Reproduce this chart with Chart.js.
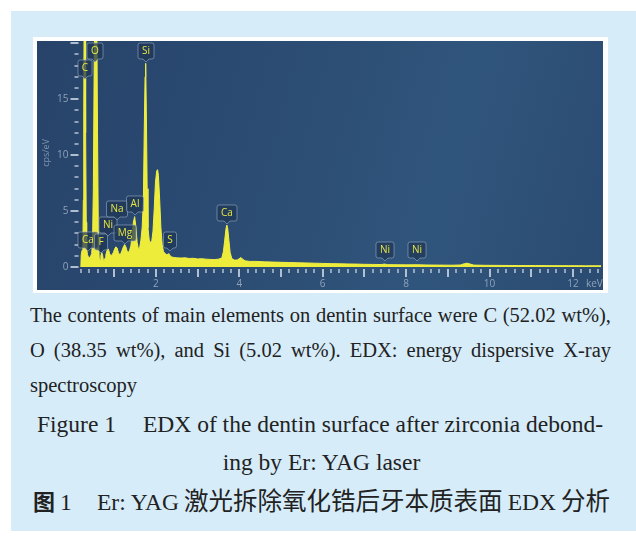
<!DOCTYPE html>
<html>
<head>
<meta charset="utf-8">
<script src="https://cdn.jsdelivr.net/npm/chart.js@4"></script>
<style>
  body { margin: 0; background: #fff; width: 636px; height: 537px; overflow: hidden; position: relative; }
  #sheet { position: absolute; left: 11px; top: 11px; width: 625px; height: 520px; background: #d6ecf9; }
  #frame { position: absolute; left: 33px; top: 37px; width: 575px; height: 256px; background: #fff; }
  #panel { position: absolute; left: 37px; top: 41px; width: 566px; height: 249px;
           background: linear-gradient(105deg, #27436a 0%, #2c4d74 45%, #30557c 70%, #2b4b71 100%); }
  .txt { position: absolute; left: 30px; width: 581px; font-family: "Liberation Serif", serif; color: #222;
         font-size: 20.5px; line-height: 35px; }
  .jl { text-align: justify; text-align-last: justify; white-space: nowrap; }
  .cap { position: absolute; font-family: "Liberation Serif", serif; color: #222; font-size: 23.5px; line-height: 36px; white-space: nowrap; }
  .zh { font-family: "Noto Sans CJK SC", sans-serif; font-size: 24.5px; }
</style>
</head>
<body>
<div id="sheet"></div>
<div id="frame"></div>
<div id="panel"><canvas id="edx" width="566" height="249"></canvas></div>

<div class="txt" style="top:298px">
  <div class="jl">The contents of main elements on dentin surface were C (52.02 wt%),</div>
  <div class="jl">O (38.35 wt%), and Si (5.02 wt%). EDX: energy dispersive X-ray</div>
  <div>spectroscopy</div>
</div>
<div class="cap" style="left:37px;top:406px;width:566px;display:flex;justify-content:space-between">
  <span>Figure 1</span><span>EDX of the dentin surface after zirconia debond-</span>
</div>
<div class="cap" style="left:0;top:444px;width:643px;text-align:center">ing by Er: YAG laser</div>
<div class="cap" style="left:33px;top:482px">
  <span class="zh" style="font-weight:700;font-size:22px;margin-right:5px">图</span>1
</div>
<div class="cap" style="left:97px;top:482px;width:513px;display:flex;justify-content:space-between;align-items:baseline">
  <span>Er: YAG</span><span class="zh">激光拆除氧化锆后牙本质表面</span><span>EDX</span><span class="zh">分析</span>
</div>

<script>
// --- SPECTRUM DATA (keV / cps per eV) ---
const energy = [
  0.20, 0.21, 0.23, 0.25, 0.26, 0.27, 0.28, 0.29, 0.30, 0.31, 0.32, 0.33, 0.34, 0.36, 0.38, 0.40, 0.43, 0.46, 0.48,
  0.50, 0.52, 0.54, 0.56, 0.58, 0.60, 0.62, 0.64, 0.66, 0.68, 0.70, 0.72, 0.74, 0.76, 0.78, 0.80, 0.83, 0.86, 0.89,
  0.92, 0.95, 0.98, 1.01, 1.04, 1.07, 1.10, 1.13, 1.16, 1.19, 1.22, 1.25, 1.28, 1.31, 1.34, 1.37, 1.40, 1.43, 1.46,
  1.49, 1.52, 1.55, 1.58, 1.61, 1.64, 1.67, 1.70, 1.72, 1.74, 1.755, 1.77, 1.79, 1.81, 1.84, 1.87, 1.90, 1.93, 1.96,
  1.99, 2.02, 2.04, 2.06, 2.09, 2.12, 2.15, 2.18, 2.22, 2.26, 2.29, 2.31, 2.34, 2.38, 2.43, 2.50, 2.60, 2.70, 2.80,
  2.90, 3.00, 3.10, 3.20, 3.30, 3.40, 3.50, 3.58, 3.62, 3.65, 3.68, 3.70, 3.72, 3.75, 3.78, 3.82, 3.88, 3.95, 4.00,
  4.04, 4.08, 4.14, 4.25, 4.40, 4.60, 4.80, 5.00, 5.20, 5.40, 5.60, 5.80, 6.00, 6.20, 6.40, 6.60, 6.80, 7.00, 7.20,
  7.40, 7.48, 7.56, 7.80, 8.00, 8.26, 8.50, 8.80, 9.10, 9.30, 9.40, 9.46, 9.52, 9.62, 9.90, 10.3, 10.7, 11.1, 11.5,
  11.9, 12.3, 12.68
];
const counts = [
  0.00, 1.10, 1.50, 2.40, 6.00, 14.0, 24.0, 26.0, 26.0, 22.0, 12.0, 4.00, 1.60, 1.10, 0.90, 0.85, 0.90, 1.20, 2.20,
  7.00, 18.0, 25.0, 26.0, 24.0, 12.0, 3.00, 0.80, 0.60, 1.00, 1.30, 1.10, 0.60, 0.50, 0.80, 1.10, 1.50, 1.60, 1.20,
  1.00, 1.10, 1.30, 1.60, 1.80, 1.70, 1.30, 1.10, 1.20, 1.50, 1.80, 2.00, 1.80, 1.40, 1.30, 1.50, 1.90, 2.80, 4.00,
  4.50, 3.60, 2.20, 1.60, 1.70, 2.40, 3.50, 6.00, 12.0, 17.0, 18.2, 14.0, 7.00, 3.50, 2.40, 2.20, 2.30, 3.20, 5.20,
  7.60, 8.60, 8.70, 8.20, 6.00, 3.50, 2.00, 1.40, 1.20, 1.10, 1.15, 1.20, 1.00, 0.90, 0.85, 0.82, 0.80, 0.82, 0.76,
  0.78, 0.72, 0.74, 0.70, 0.68, 0.66, 0.70, 0.80, 1.40, 2.40, 3.40, 3.75, 3.50, 2.40, 1.30, 0.75, 0.62, 0.62, 0.75,
  0.85, 0.70, 0.55, 0.50, 0.50, 0.46, 0.44, 0.42, 0.40, 0.38, 0.36, 0.34, 0.32, 0.30, 0.29, 0.27, 0.26, 0.24, 0.23,
  0.22, 0.26, 0.21, 0.20, 0.19, 0.20, 0.18, 0.17, 0.16, 0.18, 0.30, 0.34, 0.28, 0.17, 0.15, 0.14, 0.13, 0.13, 0.12,
  0.12, 0.11, 0.11
];

// --- ELEMENT TAGS (centre of tag, in keV / cps per eV) ---
const tagNames = ['C', 'O', 'Si', 'Ca', 'F', 'Ni', 'Na', 'Mg', 'Al', 'S', 'Ca', 'Ni', 'Ni'];
const tagEnergy = [0.31, 0.545, 1.755, 0.37, 0.69, 0.85, 1.06, 1.25, 1.49, 2.33, 3.70, 7.49, 8.27];
const tagLevel = [17.8, 19.3, 19.35, 2.4, 2.26, 3.73, 5.2, 3.06, 5.65, 2.4, 4.8, 1.5, 1.5];

// --- AXES ---
const xMax = 12.68;
const yMax = 20.2;
const xTickLabels = [2, 4, 6, 8, 10, 12];
const yTickLabels = [0, 5, 10, 15];
const xUnit = 'keV';
const yTitle = 'cps/eV';

const uiFont = '"Open Sans", "DejaVu Sans", sans-serif';

const axisPlugin = {
  id: 'edxAxes',
  afterDatasetsDraw(chart) {
    const ctx = chart.ctx, xs = chart.scales.x, ys = chart.scales.y;
    const base = ys.getPixelForValue(0);
    const left = chart.chartArea.left;
    ctx.save();
    // x ticks: minor every 0.2 keV, major every 1 keV
    for (let i = 1; i * 0.2 <= xMax + 0.001; i++) {
      const px = Math.round(xs.getPixelForValue(i * 0.2));
      const major = i % 5 === 0;
      ctx.fillStyle = major ? 'rgba(200,212,226,0.85)' : 'rgba(180,195,212,0.75)';
      ctx.fillRect(px - 1, base + 2, 2, major ? 8 : 4);
    }
    // y ticks: minor every 1, major every 5
    for (let v = 0; v <= 20; v++) {
      const py = Math.round(ys.getPixelForValue(v));
      const major = v % 5 === 0;
      ctx.fillStyle = major ? 'rgba(200,212,226,0.85)' : 'rgba(180,195,212,0.75)';
      if (major) ctx.fillRect(left - 2, py - 1, 8, 2);
      else ctx.fillRect(left + 2, py - 1, 4, 2);
    }
    ctx.fillStyle = '#8ea2bb';
    ctx.font = '10px ' + uiFont;
    ctx.textBaseline = 'middle';
    ctx.textAlign = 'center';
    xTickLabels.forEach(t => ctx.fillText(String(t), xs.getPixelForValue(t), base + 17));
    ctx.fillText(xUnit, xs.getPixelForValue(xMax) - 7, base + 17);
    ctx.textAlign = 'right';
    yTickLabels.forEach(t => ctx.fillText(String(t), left - 4, ys.getPixelForValue(t)));
    // y title
    ctx.translate(9, ys.getPixelForValue(10.2));
    ctx.rotate(-Math.PI / 2);
    ctx.textAlign = 'center';
    ctx.font = '9px ' + uiFont;
    ctx.fillStyle = '#7f94ae';
    ctx.fillText(yTitle, 0, 0);
    ctx.restore();
  }
};

const tagPlugin = {
  id: 'edxTags',
  afterDatasetsDraw(chart) {
    const ctx = chart.ctx, xs = chart.scales.x, ys = chart.scales.y;
    ctx.save();
    ctx.font = '10px ' + uiFont;
    ctx.textAlign = 'center';
    ctx.textBaseline = 'middle';
    tagNames.forEach((name, i) => {
      const cx = Math.round(xs.getPixelForValue(tagEnergy[i]));
      const cy = Math.round(ys.getPixelForValue(tagLevel[i]));
      const w = Math.round(ctx.measureText(name).width) + 8, h = 16;
      const x0 = cx - w / 2, y0 = cy - h / 2;
      ctx.beginPath();
      ctx.moveTo(x0 + 2, y0);
      ctx.lineTo(x0 + w - 2, y0);
      ctx.quadraticCurveTo(x0 + w, y0, x0 + w, y0 + 2);
      ctx.lineTo(x0 + w, y0 + h - 2);
      ctx.quadraticCurveTo(x0 + w, y0 + h, x0 + w - 2, y0 + h);
      ctx.lineTo(cx + 3, y0 + h);
      ctx.lineTo(cx, y0 + h + 3);
      ctx.lineTo(cx - 3, y0 + h);
      ctx.lineTo(x0 + 2, y0 + h);
      ctx.quadraticCurveTo(x0, y0 + h, x0, y0 + h - 2);
      ctx.lineTo(x0, y0 + 2);
      ctx.quadraticCurveTo(x0, y0, x0 + 2, y0);
      ctx.closePath();
      ctx.fillStyle = 'rgba(30,54,84,0.72)';
      ctx.fill();
      ctx.strokeStyle = 'rgba(150,172,198,0.6)';
      ctx.lineWidth = 1;
      ctx.stroke();
      ctx.fillStyle = '#e8e640';
      ctx.fillText(name, cx, cy + 0.5);
    });
    ctx.restore();
  }
};

new Chart(document.getElementById('edx'), {
  type: 'line',
  data: {
    datasets: [{
      data: energy.map((e, i) => ({ x: e, y: counts[i] })),
      borderColor: '#f1ef45',
      backgroundColor: '#eeec3a',
      borderWidth: 1,
      pointRadius: 0,
      tension: 0,
      fill: 'origin'
    }]
  },
  options: {
    responsive: false,
    animation: false,
    layout: { padding: { left: 35.5, right: 1.7, top: 0, bottom: 23 } },
    plugins: { legend: { display: false }, tooltip: { enabled: false } },
    scales: {
      x: { type: 'linear', min: 0, max: xMax, display: false },
      y: { min: 0, max: yMax, display: false }
    }
  },
  plugins: [axisPlugin, tagPlugin]
});
</script>
</body>
</html>
